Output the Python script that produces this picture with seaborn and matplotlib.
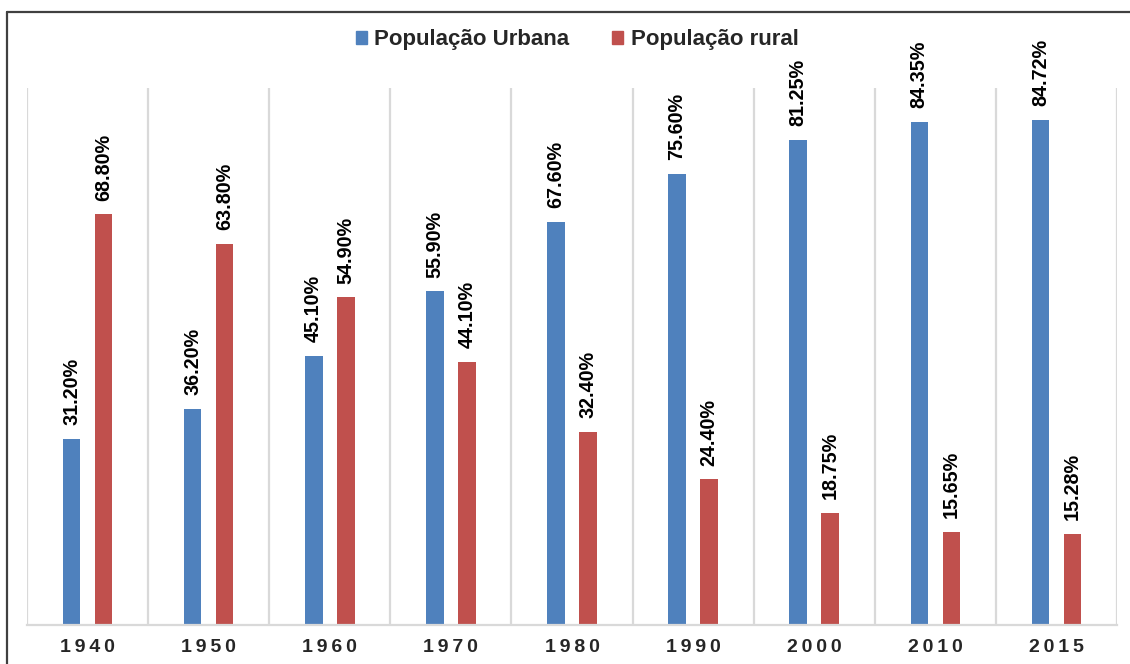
import pandas as pd
import seaborn as sns
import matplotlib.pyplot as plt
from matplotlib.patches import Rectangle
from matplotlib.lines import Line2D

# data
anos = ['1940', '1950', '1960', '1970', '1980', '1990', '2000', '2010', '2015']
urbana = [31.20, 36.20, 45.10, 55.90, 67.60, 75.60, 81.25, 84.35, 84.72]
rural = [68.80, 63.80, 54.90, 44.10, 32.40, 24.40, 18.75, 15.65, 15.28]
series = ['População Urbana', 'População rural']
cores = ['#4F81BD', '#C0504D']

df = pd.DataFrame({
    'ano': anos * 2,
    'valor': urbana + rural,
    'serie': [series[0]] * len(anos) + [series[1]] * len(anos),
})

sns.set_style("white")
plt.rcParams['font.family'] = ['Liberation Sans', 'DejaVu Sans']

fig = plt.figure(figsize=(11.3, 6.64), dpi=100)
W, H = 1130, 664
ax = fig.add_axes([27 / W, (H - 625) / H, (1117 - 27) / W, (625 - 88) / H])

sns.barplot(data=df, x='ano', y='valor', hue='serie', palette=cores,
            width=0.53, saturation=1, ax=ax, legend=True)

# thinner bars, keep centres
bar_w = 0.145
for p in ax.patches:
    if p.get_height() > 0:
        cx = p.get_x() + p.get_width() / 2
        p.set_width(bar_w)
        p.set_x(cx - bar_w / 2)
        p.set_edgecolor('none')

# value labels
for cont in ax.containers:
    for p in cont:
        h = p.get_height()
        ax.annotate(f'{h:.2f}%', (p.get_x() + p.get_width() / 2, h),
                    xytext=(0, 10), textcoords='offset points',
                    rotation=90, ha='center', va='bottom',
                    fontsize=14.2, fontweight='bold', color='black')

ax.set_xlim(-0.5, len(anos) - 0.5)
ax.set_ylim(0, 90)
for i in range(len(anos) + 1):
    ax.axvline(i - 0.5, color='#d9d9d9', lw=1.6, zorder=0)

for s in ['top', 'right', 'left']:
    ax.spines[s].set_visible(False)
ax.spines['bottom'].set_color('#d9d9d9')
ax.spines['bottom'].set_linewidth(1.6)
ax.set_yticks([])
ax.set_xlabel('')
ax.set_ylabel('')
ax.set_xticks(range(len(anos)))
ax.set_xticklabels(['\u2009'.join(a) for a in anos], fontsize=14, fontweight='bold')
ax.tick_params(axis='x', length=0, pad=10)

ax.legend_.remove()
handles = [Rectangle((0, 0), 1, 1, color=c) for c in cores]
fig.legend(handles, series, loc='center', bbox_to_anchor=(577 / W, 1 - 40 / H),
           ncol=2, frameon=False, handlelength=0.5, handleheight=0.5,
           handletextpad=0.35, columnspacing=1.9,
           prop={'size': 16, 'weight': 'bold'})

# outer frame: only top and left edges show in the reference
y_top = 1 - 12 / H
fig.add_artist(Line2D([7 / W, 1.0], [y_top, y_top], transform=fig.transFigure,
                      color='#404040', lw=1.6))
fig.add_artist(Line2D([7 / W, 7 / W], [0, y_top], transform=fig.transFigure,
                      color='#404040', lw=1.6))

fig.savefig('out.png', dpi=100)
